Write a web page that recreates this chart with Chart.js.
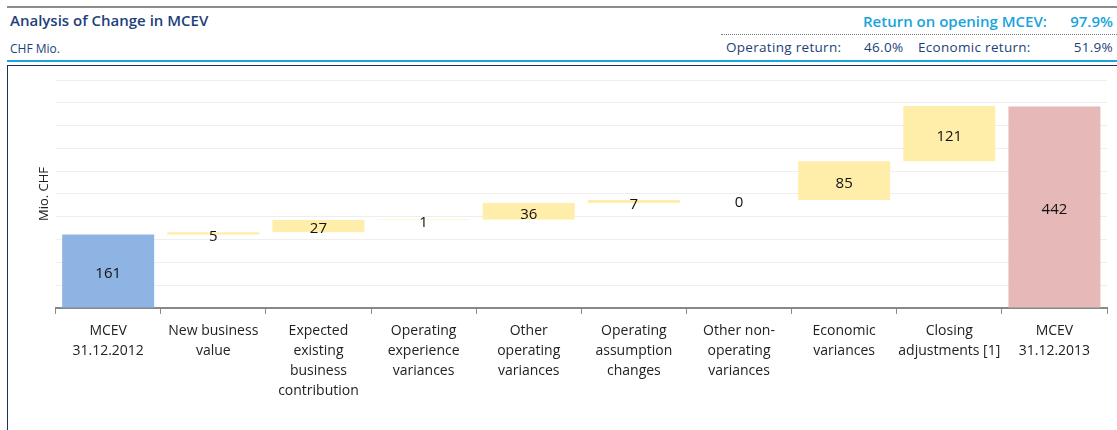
<!DOCTYPE html>
<html>
<head>
<meta charset="utf-8">
<script src="https://cdn.jsdelivr.net/npm/chart.js@4.4.0/dist/chart.umd.min.js"></script>
<style>
    body { margin: 0; width: 1117px; height: 430px; overflow: hidden; background: #fff; font-family: "Open Sans", "Noto Sans", sans-serif; position: relative; }
    .top-rule { position: absolute; left: 7px; right: 0; top: 6px; height: 2px; background: #8c8c8c; }
    .title { position: absolute; left: 10px; top: 10px; font-size: 15px; font-weight: 600; color: #1d3f7a; }
    .unit { position: absolute; left: 10px; top: 40px; font-size: 12px; color: #1d3f7a; }
    .ret-main { position: absolute; top: 11px; font-size: 15px; font-weight: 600; color: #19a4dc; }
    .dots { position: absolute; left: 721px; right: 0; top: 34px; border-top: 1px dotted #777; }
    .ret { position: absolute; top: 38px; font-size: 13.5px; color: #1d3f7a; letter-spacing: 0.3px; }
    .cyan-rule { position: absolute; left: 7px; right: 0; top: 60px; height: 2px; background: #19a4dc; }
    .frame { position: absolute; left: 7px; top: 65px; width: 1120px; height: 400px; border: 1px solid #1d2f5e; box-sizing: border-box; }
    .chart-box { position: absolute; left: 0; top: 66px; width: 1117px; height: 364px; }
</style>
</head>
<body>
<div class="top-rule"></div>
<div class="title">Analysis of Change in MCEV</div>
<div class="unit">CHF Mio.</div>
<div class="ret-main" style="left:863px">Return on opening MCEV:</div>
<div class="ret-main" style="right:4px">97.9%</div>
<div class="dots"></div>
<div class="ret" style="left:726px">Operating return:</div>
<div class="ret" style="left:864px">46.0%</div>
<div class="ret" style="left:918px">Economic return:</div>
<div class="ret" style="right:4px">51.9%</div>
<div class="cyan-rule"></div>
<div class="frame"></div>
<div class="chart-box"><canvas id="chart"></canvas></div>

<script>
// Waterfall data (CHF Mio.)
const categories = [
    ['MCEV', '31.12.2012'],
    ['New business', 'value'],
    ['Expected', 'existing', 'business', 'contribution'],
    ['Operating', 'experience', 'variances'],
    ['Other', 'operating', 'variances'],
    ['Operating', 'assumption', 'changes'],
    ['Other non-', 'operating', 'variances'],
    ['Economic', 'variances'],
    ['Closing', 'adjustments [1]'],
    ['MCEV', '31.12.2013']
];
const openingValue = 161;
const changes = [5, 27, 1, 36, 7, 0, 85, 121];
const closingValue = 442;
const yMin = 0;
const yMax = 500;
const yStep = 50;

// build floating bars from the cumulative sum
const ranges = [[0, openingValue]];
const labels = [openingValue];
let running = openingValue;
changes.forEach(c => {
    ranges.push([running, running + c]);
    labels.push(c);
    running += c;
});
ranges.push([0, closingValue]);
labels.push(closingValue);

const colors = ranges.map((r, i) => {
    if (i === 0) return '#8eb4e3';
    if (i === ranges.length - 1) return '#e6b8b7';
    return '#ffeeaa';
});

// bar value labels
const valueLabels = {
    id: 'valueLabels',
    afterDatasetsDraw(chart) {
        const { ctx } = chart;
        const meta = chart.getDatasetMeta(0);
        ctx.save();
        ctx.font = '15px "Open Sans", "Noto Sans", sans-serif';
        ctx.fillStyle = '#111';
        ctx.textAlign = 'center';
        ctx.textBaseline = 'middle';
        meta.data.forEach((bar, i) => {
            const mid = (bar.y + bar.base) / 2;
            ctx.fillText(String(labels[i]), bar.x, mid + 3);
        });
        ctx.restore();
    }
};

new Chart(document.getElementById('chart'), {
    type: 'bar',
    data: {
        labels: categories,
        datasets: [{
            data: ranges,
            backgroundColor: colors,
            borderWidth: 0,
            barPercentage: 0.875,
            categoryPercentage: 1
        }]
    },
    options: {
        responsive: true,
        maintainAspectRatio: false,
        animation: false,
        layout: { padding: { left: 36, right: 10, top: 14, bottom: 22 } },
        plugins: {
            legend: { display: false },
            tooltip: { enabled: false }
        },
        scales: {
            x: {
                grid: { display: true, drawOnChartArea: false, color: '#888', tickLength: 6, offset: true },
                border: { color: '#888', width: 2 },
                ticks: {
                    color: '#222',
                    font: { size: 14, family: '"Open Sans", "Noto Sans", sans-serif', lineHeight: 1.43 },
                    maxRotation: 0,
                    autoSkip: false,
                    padding: 7
                }
            },
            y: {
                min: yMin,
                max: yMax,
                grid: { color: '#eeeeee', drawTicks: false },
                border: { display: false },
                ticks: { display: false, stepSize: yStep },
                title: {
                    display: true,
                    text: 'Mio. CHF',
                    color: '#222',
                    font: { size: 13, family: '"Open Sans", "Noto Sans", sans-serif' },
                    padding: { top: 0, bottom: 4 }
                }
            }
        }
    },
    plugins: [valueLabels]
});
</script>
</body>
</html>
